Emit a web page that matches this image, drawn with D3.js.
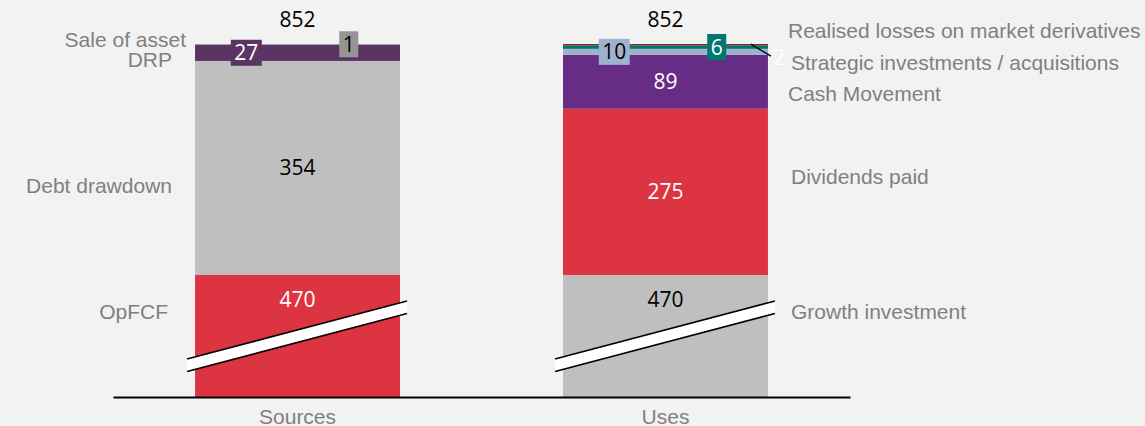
<!DOCTYPE html>
<html>
<head>
<meta charset="utf-8">
<script src="https://cdn.jsdelivr.net/npm/d3@7"></script>
<style>
  html, body { margin: 0; padding: 0; background: #f2f2f2; }
  svg { display: block; }
</style>
</head>
<body>
<svg id="chart" width="1145" height="426"></svg>
<script>
// Funding sources and uses (stacked, bottom segment shown with an axis break)
const categories = ["Sources", "Uses"];

const sourceNames  = ["OpFCF", "Debt drawdown", "DRP", "Sale of asset"];
const sourceValues = [470, 354, 27, 1];

const useNames  = ["Growth investment", "Dividends paid", "Cash Movement",
                   "Strategic investments / acquisitions", "Hedging costs",
                   "Realised losses on market derivatives"];
const useValues = [470, 275, 89, 10, 6, 2];

const totals = [852, 852];

// Styling per segment
const sourceColors = ["#dd3441", "#bfbfbf", "#5b3464", "#959595"];
const useColors    = ["#bfbfbf", "#dd3441", "#672c86", "#9eb1cd", "#00776f", "#a51d22"];
const sourceText   = ["#ffffff", "#000000", "#ffffff", "#000000"];
const useText      = ["#000000", "#ffffff", "#ffffff", "#000000", "#ffffff", "#ffffff"];

const W = 1145, H = 426;
const svg = d3.select("#chart");
const numFont = "'Open Sans', sans-serif";
const txtFont = "'Liberation Sans', Arial, sans-serif";
const grey = "#808080";

// Band scale for the two columns
const x = d3.scaleBand().domain(categories).range([113, 850])
  .paddingInner(0.443).paddingOuter(0.223);

// Broken value axis: the 0–470 base is compressed
const y = d3.scaleLinear().domain([0, 470, 852]).range([397, 275, 44]);

function stackOf(values, names, colors, textColors) {
  let acc = 0;
  return values.map((v, i) => {
    const d = { name: names[i], value: v, y0: acc, y1: acc + v,
                color: colors[i], textColor: textColors[i], index: i };
    acc += v;
    return d;
  });
}

const columns = [
  { cat: categories[0], total: totals[0], segs: stackOf(sourceValues, sourceNames, sourceColors, sourceText) },
  { cat: categories[1], total: totals[1], segs: stackOf(useValues, useNames, useColors, useText) }
];

// Bars
columns.forEach(col => {
  const g = svg.append("g");
  g.selectAll("rect").data(col.segs).join("rect")
    .attr("x", x(col.cat))
    .attr("width", x.bandwidth())
    .attr("y", d => y(d.y1))
    .attr("height", d => y(d.y0) - y(d.y1))
    .attr("fill", d => d.color);
});

// Axis break band across the base segment
columns.forEach(col => {
  const x0 = x(col.cat) - 8, x1 = x(col.cat) + x.bandwidth() + 7;
  const base = y(0);
  const yl = base - 38, yr = base - 96, t = 12.5;
  const g = svg.append("g");
  g.append("path")
    .attr("d", `M${x0},${yl}L${x1},${yr}L${x1},${yr + t}L${x0},${yl + t}Z`)
    .attr("fill", "#ffffff");
  [0, t].forEach(o => {
    g.append("line")
      .attr("x1", x0).attr("y1", yl + o).attr("x2", x1).attr("y2", yr + o)
      .attr("stroke", "#000").attr("stroke-width", 1.6);
  });
});

// Category axis
const axis = d3.axisBottom(x).tickSize(0).tickPadding(12);
const ax = svg.append("g").attr("transform", `translate(0,${y(0)})`).call(axis);
ax.select(".domain").attr("stroke", "#000").attr("stroke-width", 2);
ax.selectAll("text")
  .attr("font-family", txtFont).attr("font-size", 21).attr("fill", grey)
  .attr("dy", "0.71em");

// Totals above bars
svg.selectAll(".total").data(columns).join("text")
  .attr("class", "total")
  .attr("x", d => x(d.cat) + x.bandwidth() / 2)
  .attr("y", y(852) - 17)
  .attr("text-anchor", "middle")
  .attr("font-family", numFont).attr("font-size", 21).attr("fill", "#000")
  .text(d => d3.format("d")(d.total));

// Value labels inside segments
const boxed = new Set(["DRP", "Sale of asset", "Strategic investments / acquisitions", "Hedging costs"]);
const boxFrac = { "DRP": 0.25, "Sale of asset": 0.75,
                  "Strategic investments / acquisitions": 0.25, "Hedging costs": 0.75 };

columns.forEach(col => {
  const left = x(col.cat), bw = x.bandwidth();
  col.segs.forEach(d => {
    const mid = (y(d.y0) + y(d.y1)) / 2;
    if (boxed.has(d.name)) {
      const cx = left + bw * boxFrac[d.name];
      const label = String(d.value);
      const w = 12 * label.length + 7;
      svg.append("rect")
        .attr("x", cx - w / 2).attr("y", mid - 13)
        .attr("width", w).attr("height", 26)
        .attr("fill", d.color);
      svg.append("text")
        .attr("x", cx).attr("y", mid + 7.5)
        .attr("text-anchor", "middle")
        .attr("font-family", numFont).attr("font-size", 21)
        .attr("fill", d.textColor).text(label);
    } else if (d.value < 5) {
      // thin sliver: leader line to an outside label
      const ex = left + bw;
      svg.append("line")
        .attr("x1", ex - 17).attr("y1", mid - 0.5)
        .attr("x2", ex + 3).attr("y2", mid + 11.5)
        .attr("stroke", "#000").attr("stroke-width", 1.3);
      svg.append("text")
        .attr("x", ex + 5).attr("y", mid + 20)
        .attr("font-family", numFont).attr("font-size", 21)
        .attr("fill", "#ffffff").text(d.value);
    } else {
      const ty = d.y0 === 0 ? y(d.y1) + 32 : mid + 7.5;
      svg.append("text")
        .attr("x", left + bw / 2).attr("y", ty)
        .attr("text-anchor", "middle")
        .attr("font-family", numFont).attr("font-size", 21)
        .attr("fill", d.textColor).text(d.value);
    }
  });
});

// Segment names beside the columns
const sideLabels = [
  { text: "Sale of asset", x: 186, y: 47, anchor: "end" },
  { text: "DRP", x: 172, y: 67, anchor: "end" },
  { text: "Debt drawdown", x: 172, y: 193, anchor: "end" },
  { text: "OpFCF", x: 168, y: 319, anchor: "end" },
  { text: "Realised losses on market derivatives", x: 788, y: 38, anchor: "start" },
  { text: "Strategic investments / acquisitions", x: 791, y: 70, anchor: "start" },
  { text: "Cash Movement", x: 788, y: 101, anchor: "start" },
  { text: "Dividends paid", x: 791, y: 184, anchor: "start" },
  { text: "Growth investment", x: 791, y: 319, anchor: "start" }
];
svg.selectAll(".side").data(sideLabels).join("text")
  .attr("class", "side")
  .attr("x", d => d.x).attr("y", d => d.y)
  .attr("text-anchor", d => d.anchor)
  .attr("font-family", txtFont).attr("font-size", 21)
  .attr("fill", grey)
  .text(d => d.text);
</script>
</body>
</html>
